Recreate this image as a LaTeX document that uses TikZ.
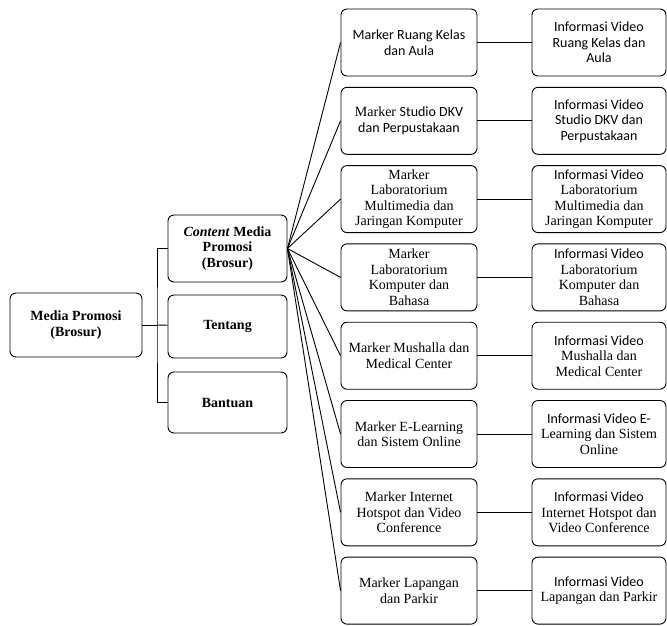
\documentclass[tikz,border=0pt]{standalone}
\usepackage{fontspec}
\setmainfont{Liberation Serif}
\newfontfamily\calibri{Carlito}
\begin{document}
\begin{tikzpicture}[x=1pt, y=-1pt,
    box/.style={rectangle, draw, rounded corners=6pt, line width=0.9pt, inner sep=0pt, align=center, font=\fontsize{14}{15.5}\selectfont},
    menu/.style={box, minimum width=119pt, font=\fontsize{14}{15.5}\selectfont\bfseries},
    marker/.style={box, minimum width=136pt, minimum height=67pt},
    info/.style={box, minimum width=134pt, minimum height=67pt},
    line/.style={line width=0.9pt}
]
\useasboundingbox (0,0) rectangle (667,625);

% Left side: root and menu
\node[box, minimum width=132pt, minimum height=64pt, font=\fontsize{14}{15.5}\selectfont\bfseries] (media) at (76,325) {Media Promosi\\(Brosur)};
\node[menu, minimum height=67pt] (content) at (227.5,248.5) {\textit{Content} Media\\Promosi\\(Brosur)};
\node[menu, minimum height=63pt] (tentang) at (227.5,326.5) {Tentang};
\node[menu, minimum height=61pt] (bantuan) at (227.5,402.5) {Bantuan};

% Middle column: markers
\node[marker] (mkelas) at (409,42.5) {{\calibri Marker Ruang Kelas}\\{\calibri dan Aula}};
\node[marker] (mdkv) at (409,120.8) {Marker {\calibri Studio DKV}\\{\calibri dan Perpustakaan}};
\node[marker] (mmulti) at (409,199.1) {Marker\\Laboratorium\\Multimedia dan\\Jaringan Komputer};
\node[marker] (mkomp) at (409,277.4) {Marker\\Laboratorium\\Komputer dan\\Bahasa};
\node[marker] (mmusha) at (409,355.7) {Marker Mushalla dan\\Medical Center};
\node[marker] (mlearn) at (409,434) {Marker E-Learning\\dan Sistem Online};
\node[marker] (mhotspot) at (409,512.3) {Marker Internet\\Hotspot dan Video\\Conference};
\node[marker] (mparkir) at (409,590.6) {Marker Lapangan\\dan Parkir};

% Right column: video info
\node[info] (ikelas) at (599,42.5) {{\calibri Informasi Video}\\{\calibri Ruang Kelas dan}\\{\calibri Aula}};
\node[info] (idkv) at (599,120.8) {{\calibri Informasi Video}\\{\calibri Studio DKV dan}\\{\calibri Perpustakaan}};
\node[info] (imulti) at (599,199.1) {{\calibri Informasi Video}\\Laboratorium\\Multimedia dan\\Jaringan Komputer};
\node[info] (ikomp) at (599,277.4) {{\calibri Informasi Video}\\Laboratorium\\Komputer dan\\Bahasa};
\node[info] (imusha) at (599,355.7) {{\calibri Informasi Video}\\Mushalla dan\\Medical Center};
\node[info] (ilearn) at (599,434) {{\calibri Informasi Video E-}\\Learning dan Sistem\\Online};
\node[info] (ihotspot) at (599,512.3) {{\calibri Informasi Video}\\Internet Hotspot dan\\Video Conference};
\node[info] (iparkir) at (599,590.6) {{\calibri Informasi Video}\\Lapangan dan Parkir};

% Bracket from root to menu
\coordinate (bus) at (157,325);
\draw[line] (media) -- (bus);
\draw[line] (content.west) -| (bus) |- (bantuan.west);
\draw[line] (bus) -- (tentang);

% Fan from content to markers
\draw[line] (content.east) -- (mkelas.west);
\draw[line] (content.east) -- (mdkv.west);
\draw[line] (content.east) -- (mmulti.west);
\draw[line] (content.east) -- (mkomp.west);
\draw[line] (content.east) -- (mmusha.west);
\draw[line] (content.east) -- (mlearn.west);
\draw[line] (content.east) -- (mhotspot.west);
\draw[line] (content.east) -- (mparkir.west);

% Markers to video info
\draw[line] (mkelas) -- (ikelas);
\draw[line] (mdkv) -- (idkv);
\draw[line] (mmulti) -- (imulti);
\draw[line] (mkomp) -- (ikomp);
\draw[line] (mmusha) -- (imusha);
\draw[line] (mlearn) -- (ilearn);
\draw[line] (mhotspot) -- (ihotspot);
\draw[line] (mparkir) -- (iparkir);

\end{tikzpicture}
\end{document}
